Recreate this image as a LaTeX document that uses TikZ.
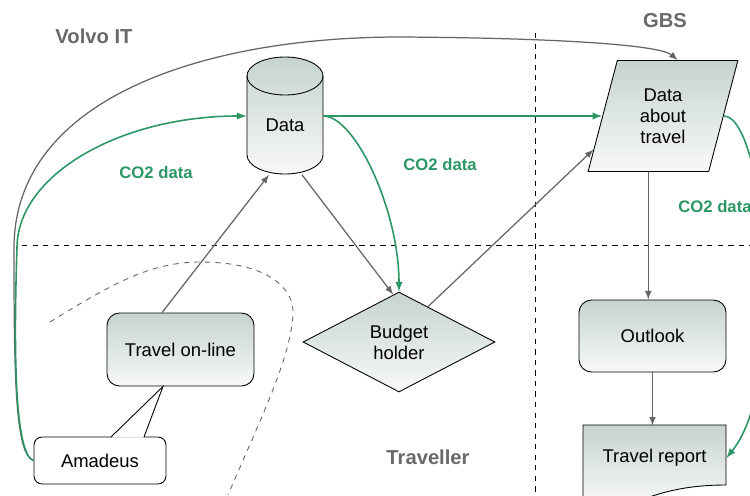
\documentclass[tikz,border=0pt]{standalone}
\usepackage{fontspec}
\setmainfont{Liberation Sans}
\usepackage{tikz}
\usetikzlibrary{calc,arrows,shapes.geometric,positioning}
\definecolor{co2green}{RGB}{44,150,100}
\definecolor{linegray}{RGB}{100,100,100}
\definecolor{titlegray}{RGB}{105,105,105}
\definecolor{boxtop}{RGB}{198,211,207}
\definecolor{boxbot}{RGB}{247,249,248}
\tikzset{>=latex,
  flowbox/.style={draw, line width=0.5pt, top color=boxtop, bottom color=boxbot, font=\fontsize{10.5}{12}\selectfont, align=center, inner sep=0pt},
  roundbox/.style={flowbox, rounded corners=0.25cm, minimum width=2.94cm},
  grayline/.style={draw=linegray, line width=0.7pt},
  greenline/.style={draw=co2green, line width=0.9pt},
  co2label/.style={text=co2green, font=\bfseries\fontsize{9.5}{11}\selectfont},
  region/.style={text=titlegray, font=\bfseries\fontsize{11.5}{13}\selectfont},
  divider/.style={dashed, line width=0.5pt}}

\begin{document}
\begin{tikzpicture}[x=0.02cm,y=0.02cm]
                \useasboundingbox (0,0) rectangle (750,495);
                \draw[divider] (535,462) -- (535,0);
                \draw[divider] (22,250) -- (750,250);
                \draw[divider, linegray] (50,173) .. controls (110,210) and (150,233) .. (200,233) .. controls (270,233) and (295,205) .. (293,180) .. controls (290,135) and (260,75) .. (228,0);
                \node[region] (volvo) at (94,459) {Volvo IT};
                \node[region] (gbs) at (665,474) {GBS};
                \node[region] (traveller) at (428,38) {Traveller};
                % Data store
                \shade[top color=boxtop, bottom color=boxbot] (247,419) -- (247,340) arc[start angle=180, end angle=360, x radius=38, y radius=19] -- (323,419) arc[start angle=0, end angle=180, x radius=38, y radius=19] -- cycle;
                \draw[line width=0.5pt] (247,419) -- (247,340) arc[start angle=180, end angle=360, x radius=38, y radius=19] -- (323,419);
                \draw[line width=0.5pt] (285,419) ellipse[x radius=38, y radius=19];
                \node[minimum width=1.52cm, minimum height=2.34cm, inner sep=0pt] (data) at (285,379) {};
                \node[font=\fontsize{10.5}{12}\selectfont] (datatext) at (285,370) {Data};
                \node[flowbox, trapezium, trapezium stretches=true, trapezium left angle=75, trapezium right angle=105, minimum width=3cm, minimum height=2.22cm] (trip) at (663,379) {Data\\about\\travel};
                \node[flowbox, diamond, minimum width=3.84cm, minimum height=2cm] (budget) at (399,153) {Budget\\holder};
                \node[roundbox, minimum height=1.46cm] (online) at (180.5,145.5) {Travel on-line};
                \node[roundbox, minimum height=1.44cm] (outlook) at (652.5,159) {Outlook};
                % Travel report
                \shade[top color=boxtop, bottom color=boxbot] (583,70) -- (726,70) -- (726,10) .. controls (690,10) and (660,4) .. (630,-10) -- (583,-10) -- cycle;
                \draw[line width=0.5pt] (583,-10) -- (583,70) -- (726,70) -- (726,10) .. controls (690,10) and (660,4) .. (630,-10);
                \node[minimum width=2.86cm, minimum height=1.28cm, inner sep=0pt, font=\fontsize{10.5}{12}\selectfont] (report) at (654.5,37) {Travel report};
                % Amadeus
                \node[draw, line width=0.5pt, fill=white, rounded corners=0.16cm, minimum width=2.64cm, minimum height=0.94cm, inner sep=0pt, font=\fontsize{10.5}{12}\selectfont] (amadeus) at (100,34.5) {Amadeus};
                \coordinate (tip) at ([xshift=-0.35cm]online.south);
                \fill[white] (111.5,57.5) -- (tip) -- (143.5,57.5) -- cycle;
                \draw[line width=0.5pt] (111,58) -- (tip) -- (144,58);
                \coordinate (tripleft) at ($(trip.bottom left corner)!0.5!(trip.top left corner)$);
                \coordinate (tripright) at ($(trip.bottom right corner)!0.5!(trip.top right corner)$);
                \coordinate (triptop) at ($(trip.top left corner)!0.5!(trip.top right corner)$);
                \coordinate (tripbot) at ($(trip.bottom left corner)!0.5!(trip.bottom right corner)$);
                % gray flows
                \draw[grayline,->] (amadeus.west) .. controls (15,40) and (14,120) .. (14,247) .. controls (14,395) and (200,458) .. (400,458) .. controls (560,457) and (660,450) .. (triptop);
                \draw[grayline,->] ([xshift=-0.37cm]online.north) -- ([xshift=-0.32cm]data.south);
                \draw[grayline,->] ([xshift=0.34cm]data.south) -- ($(budget.north)!0.06!(budget.west)$);
                \draw[grayline,->] ($(budget.north)!0.3!(budget.east)$) -- ($(trip.bottom left corner)!0.2!(trip.top left corner)$);
                \draw[grayline,->] (tripbot) -- (tripbot |- outlook.north);
                \draw[grayline,->] (outlook.south) -- (outlook.south |- report.north);
                % CO2 flows
                \draw[greenline,->] (amadeus.west) .. controls (16,40) and (13,130) .. (17,247) .. controls (17,320) and (120,379) .. (data.west);
                \draw[greenline,->] (data.east) -- (tripleft);
                \draw[greenline,->] (data.east) .. controls (355,379) and (399,285) .. (budget.north);
                \draw[greenline,->] (tripright) .. controls (765,379) and (790,115) .. (report.east);
                \node[co2label] (co2a) at (156,322) {CO2 data};
                \node[co2label] (co2b) at (440,330) {CO2 data};
                \node[co2label, anchor=west, inner sep=0pt] (co2c) at (678,288) {CO2 data};
            \end{tikzpicture}
\end{document}
